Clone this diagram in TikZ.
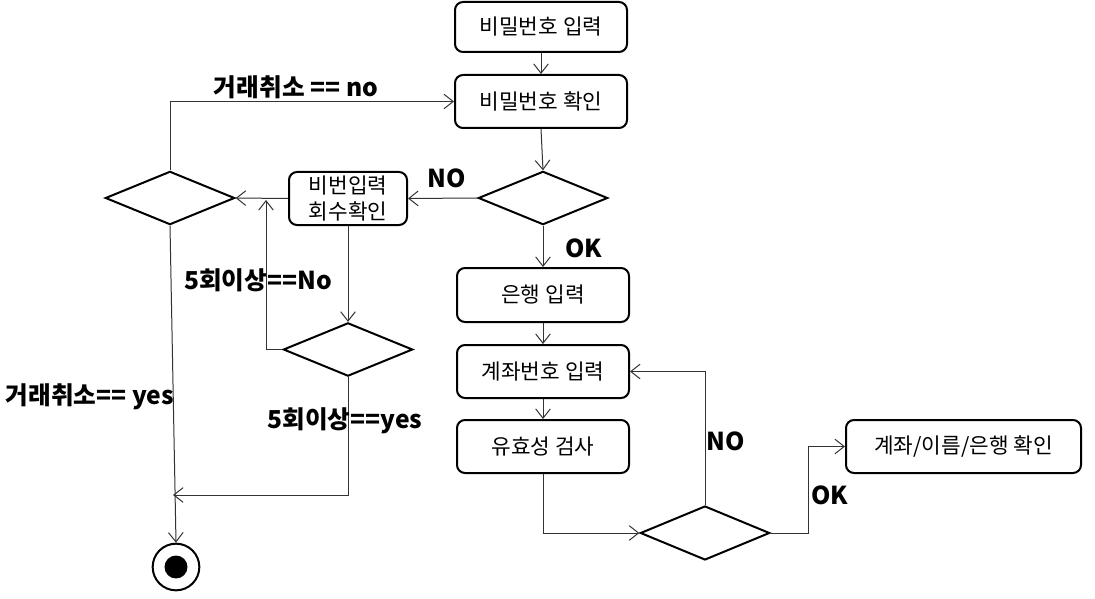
\documentclass[tikz,border=0pt]{standalone}
\usepackage{fontspec}
\setmainfont{Noto Sans CJK KR}
\usetikzlibrary{shapes.geometric,arrows.meta}
\begin{document}
\begin{tikzpicture}[x=0.75pt,y=-0.75pt,
  act/.style={draw=black,line width=1.5pt,rounded corners=6pt,minimum width=129pt,minimum height=39.75pt,inner sep=0pt,font=\fontsize{16pt}{19pt}\selectfont,align=center},
  dec/.style={draw=black,line width=1.5pt,diamond,inner sep=0pt,minimum width=97pt,minimum height=40pt},
  flow/.style={draw=black!80,line width=0.75pt,-{Straight Barb[length=7pt,width=11pt]}},
  lbl/.style={font=\bfseries\fontsize{18.5pt}{21pt}\selectfont,inner sep=0pt}]
\useasboundingbox (0,0) rectangle (1095,599);
% activities
\node[act,minimum height=37.5pt] (b1) at (541,27) {비밀번호 입력};
\node[act] (b2) at (541,101.5) {비밀번호 확인};
\node[act,minimum width=88.5pt] (b3) at (348,198.5) {비번입력\\회수확인};
\node[act,minimum height=40.5pt] (b4) at (543,295) {은행 입력};
\node[act] (b5) at (543,371.5) {계좌번호 입력};
\node[act] (b6) at (543,446.5) {유효성 검사};
\node[act,minimum width=176.25pt] (b7) at (963.5,446.5) {계좌/이름/은행 확인};
% decisions
\node[dec] (d1) at (543,198) {};
\node[dec] (d2) at (170,198) {};
\node[dec] (d3) at (348,349.5) {};
\node[dec,minimum height=40.5pt] (d4) at (705,533) {};
% final node
\node[draw=black,line width=1.5pt,circle,minimum size=35pt,inner sep=0pt] (end) at (176,567) {};
\fill[black] (end.center) circle[radius=8.6pt];
% helper coordinates
\coordinate (up) at (266,200);
\coordinate (join) at (173,495);
% connectors
\draw[flow] (b1.south) -- (b2.north);
\draw[flow] (b2.south) -- (d1.north);
\draw[flow] (d1.west) -- (b3.east);
\draw[flow] (b3.west) -- (d2.east);
\draw[flow] (d2.north) |- (b2.west);
\draw[flow] (d1.south) -- (b4.north);
\draw[flow] (b4.south) -- (b5.north);
\draw[flow] (b5.south) -- (b6.north);
\draw[flow] (b6.south) |- (d4.west);
\draw[flow] (d4.north) |- (b5.east);
\draw[flow] (d4.east) -- ++(38,0) |- (b7.west);
\draw[flow] (b3.south) -- (d3.north);
\draw[flow] (d3.west) -| (up);
\draw[flow] (d3.south) |- (join);
\draw[flow] (d2.south) -- (end.north);
% labels
\node[lbl] (l1) at (296,87) {거래취소 == no};
\node[lbl] (l2) at (447,178) {NO};
\node[lbl] (l3) at (584,248) {OK};
\node[lbl] (l4) at (258,280) {5회이상==No};
\node[lbl] (l5) at (90,397) {거래취소== yes};
\node[lbl] (l6) at (345,421) {5회이상==yes};
\node[lbl] (l7) at (726,441) {NO};
\node[lbl] (l8) at (830,495) {OK};
\end{tikzpicture}
\end{document}
